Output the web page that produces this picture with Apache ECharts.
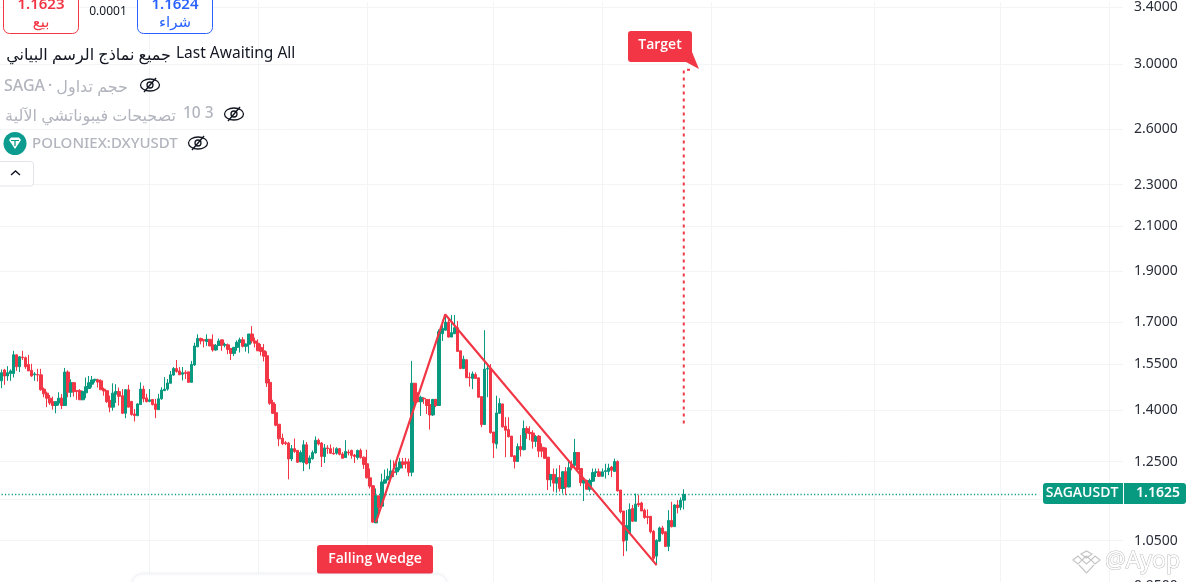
<!DOCTYPE html>
<html>
<head>
<meta charset="utf-8">
<style>html,body{margin:0;padding:0;background:#fff;overflow:hidden;height:582px}#c{width:1191px;height:602px}</style>
<script src="https://cdn.jsdelivr.net/npm/echarts@6/dist/echarts.min.js"></script>
</head>
<body>
<div id="c"></div>
<script>
// [open, close, low, high]
const candles = [
[1.493,1.520,1.469,1.531],[1.529,1.509,1.480,1.533],[1.509,1.520,1.493,1.542],[1.517,1.526,1.493,1.531],[1.517,1.581,1.504,1.595],
[1.581,1.540,1.526,1.583],[1.540,1.574,1.522,1.577],[1.573,1.571,1.563,1.595],[1.571,1.540,1.533,1.575],[1.548,1.526,1.526,1.581],
[1.528,1.509,1.506,1.550],[1.513,1.516,1.493,1.522],[1.514,1.512,1.491,1.533],[1.513,1.464,1.461,1.533],[1.466,1.451,1.440,1.471],
[1.453,1.437,1.409,1.458],[1.437,1.422,1.416,1.447],[1.426,1.414,1.401,1.442],[1.414,1.426,1.390,1.426],[1.422,1.437,1.414,1.456],
[1.437,1.414,1.403,1.450],[1.414,1.522,1.414,1.536],[1.522,1.456,1.440,1.528],[1.456,1.487,1.440,1.498],[1.487,1.458,1.442,1.489],
[1.461,1.459,1.432,1.463],[1.461,1.432,1.432,1.466],[1.432,1.458,1.432,1.461],[1.454,1.474,1.437,1.504],[1.468,1.487,1.466,1.509],
[1.482,1.496,1.471,1.509],[1.495,1.498,1.487,1.500],[1.496,1.489,1.471,1.500],[1.493,1.464,1.464,1.498],[1.466,1.460,1.445,1.471],
[1.461,1.426,1.422,1.461],[1.430,1.409,1.393,1.445],[1.409,1.453,1.398,1.485],[1.450,1.458,1.422,1.482],[1.458,1.443,1.414,1.471],
[1.445,1.390,1.388,1.466],[1.390,1.464,1.375,1.466],[1.464,1.409,1.409,1.480],[1.427,1.386,1.383,1.427],[1.388,1.383,1.365,1.403],
[1.383,1.419,1.381,1.421],[1.417,1.466,1.417,1.488],[1.466,1.435,1.424,1.477],[1.438,1.426,1.424,1.451],[1.427,1.432,1.424,1.466],
[1.433,1.417,1.414,1.433],[1.419,1.402,1.375,1.435],[1.401,1.435,1.401,1.451],[1.435,1.463,1.432,1.472],[1.461,1.466,1.461,1.505],
[1.466,1.486,1.461,1.499],[1.485,1.513,1.485,1.526],[1.512,1.534,1.510,1.539],[1.534,1.524,1.520,1.563],[1.526,1.513,1.513,1.539],
[1.515,1.520,1.494,1.539],[1.521,1.517,1.499,1.528],[1.523,1.488,1.488,1.523],[1.488,1.548,1.488,1.560],[1.546,1.612,1.543,1.624],
[1.609,1.639,1.609,1.654],[1.639,1.630,1.618,1.642],[1.634,1.631,1.607,1.636],[1.628,1.636,1.612,1.654],[1.636,1.612,1.612,1.636],
[1.616,1.598,1.592,1.654],[1.598,1.614,1.595,1.619],[1.614,1.630,1.612,1.639],[1.634,1.615,1.595,1.634],[1.615,1.617,1.607,1.624],
[1.616,1.600,1.583,1.621],[1.603,1.586,1.563,1.603],[1.586,1.607,1.577,1.609],[1.607,1.625,1.595,1.632],[1.625,1.634,1.589,1.642],
[1.634,1.611,1.607,1.644],[1.611,1.619,1.592,1.621],[1.618,1.655,1.586,1.655],[1.655,1.630,1.621,1.684],[1.630,1.622,1.607,1.642],
[1.622,1.595,1.595,1.636],[1.607,1.593,1.578,1.619],[1.595,1.576,1.558,1.619],[1.578,1.486,1.473,1.593],[1.488,1.421,1.416,1.499],
[1.423,1.390,1.388,1.432],[1.392,1.354,1.351,1.419],[1.357,1.314,1.293,1.357],[1.316,1.300,1.296,1.329],[1.303,1.300,1.296,1.308],
[1.302,1.257,1.202,1.305],[1.257,1.286,1.251,1.296],[1.286,1.278,1.274,1.315],[1.281,1.248,1.246,1.281],[1.249,1.275,1.249,1.281],
[1.247,1.297,1.224,1.310],[1.297,1.244,1.242,1.305],[1.246,1.260,1.229,1.267],[1.258,1.275,1.255,1.281],[1.274,1.310,1.272,1.321],
[1.310,1.299,1.295,1.315],[1.302,1.264,1.235,1.305],[1.264,1.288,1.246,1.299],[1.288,1.286,1.271,1.296],[1.286,1.273,1.271,1.298],
[1.273,1.271,1.269,1.290],[1.273,1.286,1.269,1.290],[1.286,1.270,1.267,1.288],[1.271,1.259,1.258,1.276],[1.261,1.278,1.260,1.310],
[1.276,1.274,1.267,1.283],[1.281,1.267,1.258,1.283],[1.268,1.264,1.246,1.271],[1.261,1.281,1.255,1.283],[1.281,1.261,1.258,1.286],
[1.262,1.242,1.230,1.264],[1.244,1.206,1.204,1.283],[1.206,1.184,1.178,1.231],[1.185,1.094,1.092,1.186],[1.092,1.159,1.092,1.178],
[1.159,1.130,1.106,1.159],[1.133,1.195,1.131,1.217],[1.192,1.201,1.190,1.228],[1.201,1.210,1.199,1.231],[1.208,1.224,1.199,1.255],
[1.222,1.220,1.208,1.253],[1.222,1.233,1.213,1.255],[1.232,1.249,1.226,1.260],[1.249,1.242,1.231,1.260],[1.249,1.244,1.231,1.260],
[1.249,1.221,1.210,1.258],[1.221,1.485,1.210,1.560],[1.485,1.427,1.407,1.485],[1.440,1.426,1.424,1.456],[1.426,1.440,1.382,1.445],
[1.437,1.435,1.419,1.440],[1.433,1.414,1.388,1.433],[1.417,1.385,1.341,1.435],[1.385,1.433,1.382,1.435],[1.433,1.414,1.409,1.435],
[1.414,1.664,1.414,1.672],[1.656,1.676,1.630,1.703],[1.669,1.699,1.669,1.726],[1.699,1.644,1.642,1.709],[1.644,1.660,1.644,1.726],
[1.656,1.678,1.656,1.726],[1.678,1.593,1.593,1.703],[1.595,1.534,1.532,1.595],[1.534,1.566,1.532,1.578],[1.564,1.503,1.503,1.564],
[1.505,1.503,1.474,1.521],[1.501,1.516,1.466,1.524],[1.514,1.501,1.499,1.521],[1.503,1.440,1.438,1.503],[1.442,1.356,1.348,1.442],
[1.356,1.532,1.356,1.669],[1.532,1.534,1.440,1.549],[1.535,1.332,1.329,1.549],[1.334,1.302,1.260,1.334],[1.299,1.391,1.286,1.445],
[1.390,1.421,1.388,1.437],[1.419,1.349,1.347,1.419],[1.351,1.339,1.262,1.378],[1.341,1.320,1.318,1.378],[1.322,1.264,1.262,1.322],
[1.266,1.250,1.231,1.266],[1.250,1.292,1.249,1.301],[1.292,1.283,1.264,1.325],[1.283,1.344,1.281,1.368],[1.344,1.331,1.314,1.351],
[1.333,1.329,1.310,1.351],[1.331,1.307,1.286,1.339],[1.307,1.320,1.291,1.325],[1.322,1.279,1.262,1.325],[1.290,1.279,1.262,1.301],
[1.288,1.259,1.258,1.290],[1.262,1.201,1.174,1.262],[1.201,1.215,1.183,1.215],[1.215,1.192,1.170,1.231],[1.192,1.206,1.167,1.231],
[1.206,1.178,1.170,1.240],[1.178,1.222,1.165,1.224],[1.222,1.182,1.161,1.235],[1.182,1.233,1.181,1.253],[1.242,1.233,1.226,1.253],
[1.240,1.275,1.231,1.314],[1.275,1.228,1.224,1.275],[1.231,1.193,1.184,1.231],[1.192,1.199,1.146,1.204],[1.199,1.176,1.176,1.201],
[1.176,1.199,1.170,1.204],[1.197,1.220,1.195,1.231],[1.220,1.222,1.208,1.231],[1.222,1.210,1.208,1.231],[1.210,1.222,1.210,1.231],
[1.223,1.225,1.204,1.244],[1.223,1.232,1.213,1.244],[1.235,1.226,1.208,1.238],[1.223,1.250,1.223,1.258],[1.250,1.172,1.170,1.253],
[1.174,1.119,1.115,1.174],[1.121,1.049,1.015,1.121],[1.051,1.086,1.026,1.123],[1.067,1.125,1.067,1.140],[1.127,1.096,1.094,1.136],
[1.096,1.138,1.096,1.165],[1.140,1.136,1.131,1.161],[1.141,1.121,1.121,1.144],[1.123,1.105,1.102,1.127],[1.108,1.105,1.089,1.125],
[1.108,1.071,1.067,1.108],[1.072,1.010,1.006,1.075],[1.015,1.051,0.995,1.053],[1.049,1.080,1.047,1.083],[1.080,1.067,1.064,1.085],
[1.071,1.037,1.036,1.071],[1.037,1.098,1.026,1.123],[1.098,1.083,1.081,1.144],[1.083,1.136,1.083,1.138],[1.136,1.129,1.115,1.148],
[1.130,1.148,1.123,1.155],[1.148,1.1625,1.125,1.176]
];
const priceTicks = [3.4, 3.0, 2.6, 2.3, 2.1, 1.9, 1.7, 1.55, 1.4, 1.25, 1.15, 1.05, 0.95];
const wedgeLine = [[124, 1.0935], [147, 1.728], [217, 0.995]];
const targetLine = [[226, 1.359], [226, 2.961], [229, 2.961]];
const lastPrice = 1.1625;
const priceLineEnd = 343;
const barSlots = 372;
const timeGridBars = [49, 85, 121, 163, 199, 235, 289, 331, 367];
const axisRange = [0.9175, 3.437];

const RED = '#f23645', GREEN = '#089981', BLUE = '#2962ff', GRAY = '#b2b5be', INK = '#131722';
const FONT = '"Noto Sans","DejaVu Sans",sans-serif';
const ln = Math.log;
const categories = Array.from({length: barSlots}, (_, i) => String(i));
const logPts = pts => pts.map(([i, p]) => [i, ln(p)]);

function txt(text, x, y, size, fill, align, weight, fam) {
  return {type: 'text', x, y, z: 30, silent: true, style: {
    text, fill, align: align || 'left', verticalAlign: 'middle',
    font: (weight || 'normal') + ' ' + size + 'px ' + (fam || FONT)
  }};
}
function box(x, y, w, h, r, fill, stroke, z) {
  return {type: 'rect', z: z || 20, silent: true, shape: {x, y, width: w, height: h, r},
    style: {fill, stroke: stroke || null, lineWidth: stroke ? 1 : 0}};
}
function eye(x, y) {
  const s = {fill: 'none', stroke: INK, lineWidth: 1.3};
  return [
    {type: 'ellipse', z: 30, silent: true, shape: {cx: x + 10, cy: y + 8, rx: 9.5, ry: 6}, style: s},
    {type: 'circle', z: 30, silent: true, shape: {cx: x + 10, cy: y + 8, r: 3}, style: s},
    {type: 'line', z: 30, silent: true, shape: {x1: x + 4, y1: y + 15, x2: x + 16, y2: y + 1}, style: {stroke: INK, lineWidth: 1.4}}
  ];
}
function logoPart(points, closed) {
  return {type: closed ? 'polygon' : 'polyline', z: 30, silent: true, shape: {points},
    style: {fill: 'none', stroke: '#c4c4c4', lineWidth: 1.1}};
}

const graphics = [
  box(3.5, -10, 75, 43.5, 6, '#fff', RED),
  txt('1.1623', 41, 5, 15, RED, 'center', '600'),
  txt('بيع', 41, 23, 15, RED, 'center'),
  txt('0.0001', 108, 12, 12, INK, 'center'),
  box(137.5, -10, 75, 43.5, 6, '#fff', BLUE),
  txt('1.1624', 175, 5, 15, BLUE, 'center', '600'),
  txt('شراء', 175, 23, 15, BLUE, 'center'),
  txt('جميع نماذج الرسم البياني', 171, 55, 16, INK, 'right'),
  txt('Last Awaiting All', 176, 54, 15.5, INK, 'left'),
  txt('SAGA', 4, 86, 16, GRAY, 'left', '500'),
  txt('·', 50, 86, 15, GRAY, 'center', '600'),
  txt('حجم تداول', 128, 87, 16, GRAY, 'right'),
  ...eye(140, 77),
  txt('تصحيحات فيبوناتشي الآلية', 176, 116, 16, GRAY, 'right'),
  txt('10 3', 183, 114, 15.5, GRAY, 'left', '500'),
  ...eye(224, 106),
  {type: 'circle', z: 25, silent: true, shape: {cx: 15, cy: 143.5, r: 11.5}, style: {fill: '#0b9c8f'}},
  {type: 'polygon', z: 26, silent: true, shape: {points: [[9, 140], [11, 137.5], [19, 137.5], [21, 140], [15, 149]]}, style: {fill: '#fff'}},
  {type: 'line', z: 27, silent: true, shape: {x1: 11, y1: 140.5, x2: 19, y2: 140.5}, style: {stroke: '#0b9c8f', lineWidth: 1}},
  {type: 'line', z: 27, silent: true, shape: {x1: 15, y1: 140.5, x2: 15, y2: 146}, style: {stroke: '#0b9c8f', lineWidth: 1.3}},
  txt('POLONIEX:DXYUSDT', 32, 144, 15, GRAY, 'left', '500'),
  ...eye(188, 135),
  box(-4, 161.5, 37.5, 24.5, 3, '#fff', '#e0e3eb'),
  {type: 'polyline', z: 30, silent: true, shape: {points: [[11, 175], [15.5, 171], [20, 175]]}, style: {fill: 'none', stroke: INK, lineWidth: 1.5}},
  box(628, 31, 64, 31, 3, RED),
  {type: 'polygon', z: 20, silent: true, shape: {points: [[692, 52], [699, 69], [686, 62]]}, style: {fill: RED}},
  txt('Target', 660, 45, 14, '#fff', 'center', '600', '"Open Sans",sans-serif'),
  box(317, 545, 116, 29, 3, RED),
  txt('Falling Wedge', 375, 559, 14, '#fff', 'center', '600', '"Open Sans",sans-serif'),
  {type: 'rect', z: 35, silent: true, shape: {x: 132, y: 574, width: 315, height: 30, r: 10},
    style: {fill: '#fff', stroke: '#f0f3fa', lineWidth: 1, shadowBlur: 4, shadowColor: 'rgba(0,0,0,0.06)'}},
  box(1043, 483, 143, 21, 3, GREEN, null, 26),
  {type: 'line', z: 27, silent: true, shape: {x1: 1123.5, y1: 483, x2: 1123.5, y2: 504}, style: {stroke: '#fff', lineWidth: 1}},
  txt('SAGAUSDT', 1082, 493.5, 14, '#fff', 'center', '600', '"Open Sans",sans-serif'),
  txt(lastPrice.toFixed(4), 1158, 493.5, 14, '#fff', 'center', '600'),
  logoPart([[1073, 560], [1078, 556], [1082, 560], [1078, 564]], true),
  logoPart([[1082, 560], [1086.5, 556], [1091, 560], [1086.5, 564]], true),
  logoPart([[1091, 560], [1095, 556], [1100, 560], [1095, 564]], true),
  logoPart([[1081, 554], [1086.5, 551], [1092, 554], [1086.5, 558]], true),
  logoPart([[1079, 565], [1086.5, 573], [1094, 565]], false),
  {type: 'text', z: 30, x: 1105, y: 561, silent: true, style: {text: '@Ayop', fill: '#fff', stroke: '#bdbdbd', lineWidth: 1, verticalAlign: 'middle', font: '23px ' + FONT}}
];

const chart = echarts.init(document.getElementById('c'), null, {renderer: 'canvas', width: 1191, height: 602});
chart.setOption({
  animation: false,
  backgroundColor: '#fff',
  grid: {left: -2, top: 0, width: 1125, height: 602},
  xAxis: {
    type: 'category', data: categories, boundaryGap: true,
    axisLine: {show: false}, axisTick: {show: false}, axisLabel: {show: false},
    splitLine: {show: true, alignWithLabel: true, interval: i => timeGridBars.includes(i), lineStyle: {color: '#f3f4f6', width: 1}}
  },
  yAxis: {
    type: 'value', position: 'right', scale: true,
    min: ln(axisRange[0]), max: ln(axisRange[1]),
    axisLine: {show: false},
    axisTick: {show: false, customValues: priceTicks.map(ln)},
    axisLabel: {customValues: priceTicks.map(ln), margin: 11, color: '#2a2e39', fontFamily: FONT, fontSize: 14,
      formatter: v => Math.exp(v).toFixed(4)},
    splitLine: {show: true, lineStyle: {color: '#f3f4f6', width: 1}}
  },
  series: [
    {type: 'candlestick', barWidth: 3,
     data: candles.map(c => c.map(ln)),
     itemStyle: {color: GREEN, color0: RED, borderColor: GREEN, borderColor0: RED, borderWidth: 1}, z: 3},
    {type: 'line', data: logPts(wedgeLine), symbol: 'none', lineStyle: {color: RED, width: 2.2}, z: 4, silent: true},
    {type: 'line', data: logPts(targetLine), symbol: 'none', lineStyle: {color: RED, width: 2, type: [3, 4]}, z: 4, silent: true},
    {type: 'line', data: logPts([[0, lastPrice], [priceLineEnd, lastPrice]]), symbol: 'none', lineStyle: {color: GREEN, width: 1.4, type: [1.2, 2.2]}, z: 2, silent: true}
  ],
  graphic: graphics
});
</script>
</body>
</html>
